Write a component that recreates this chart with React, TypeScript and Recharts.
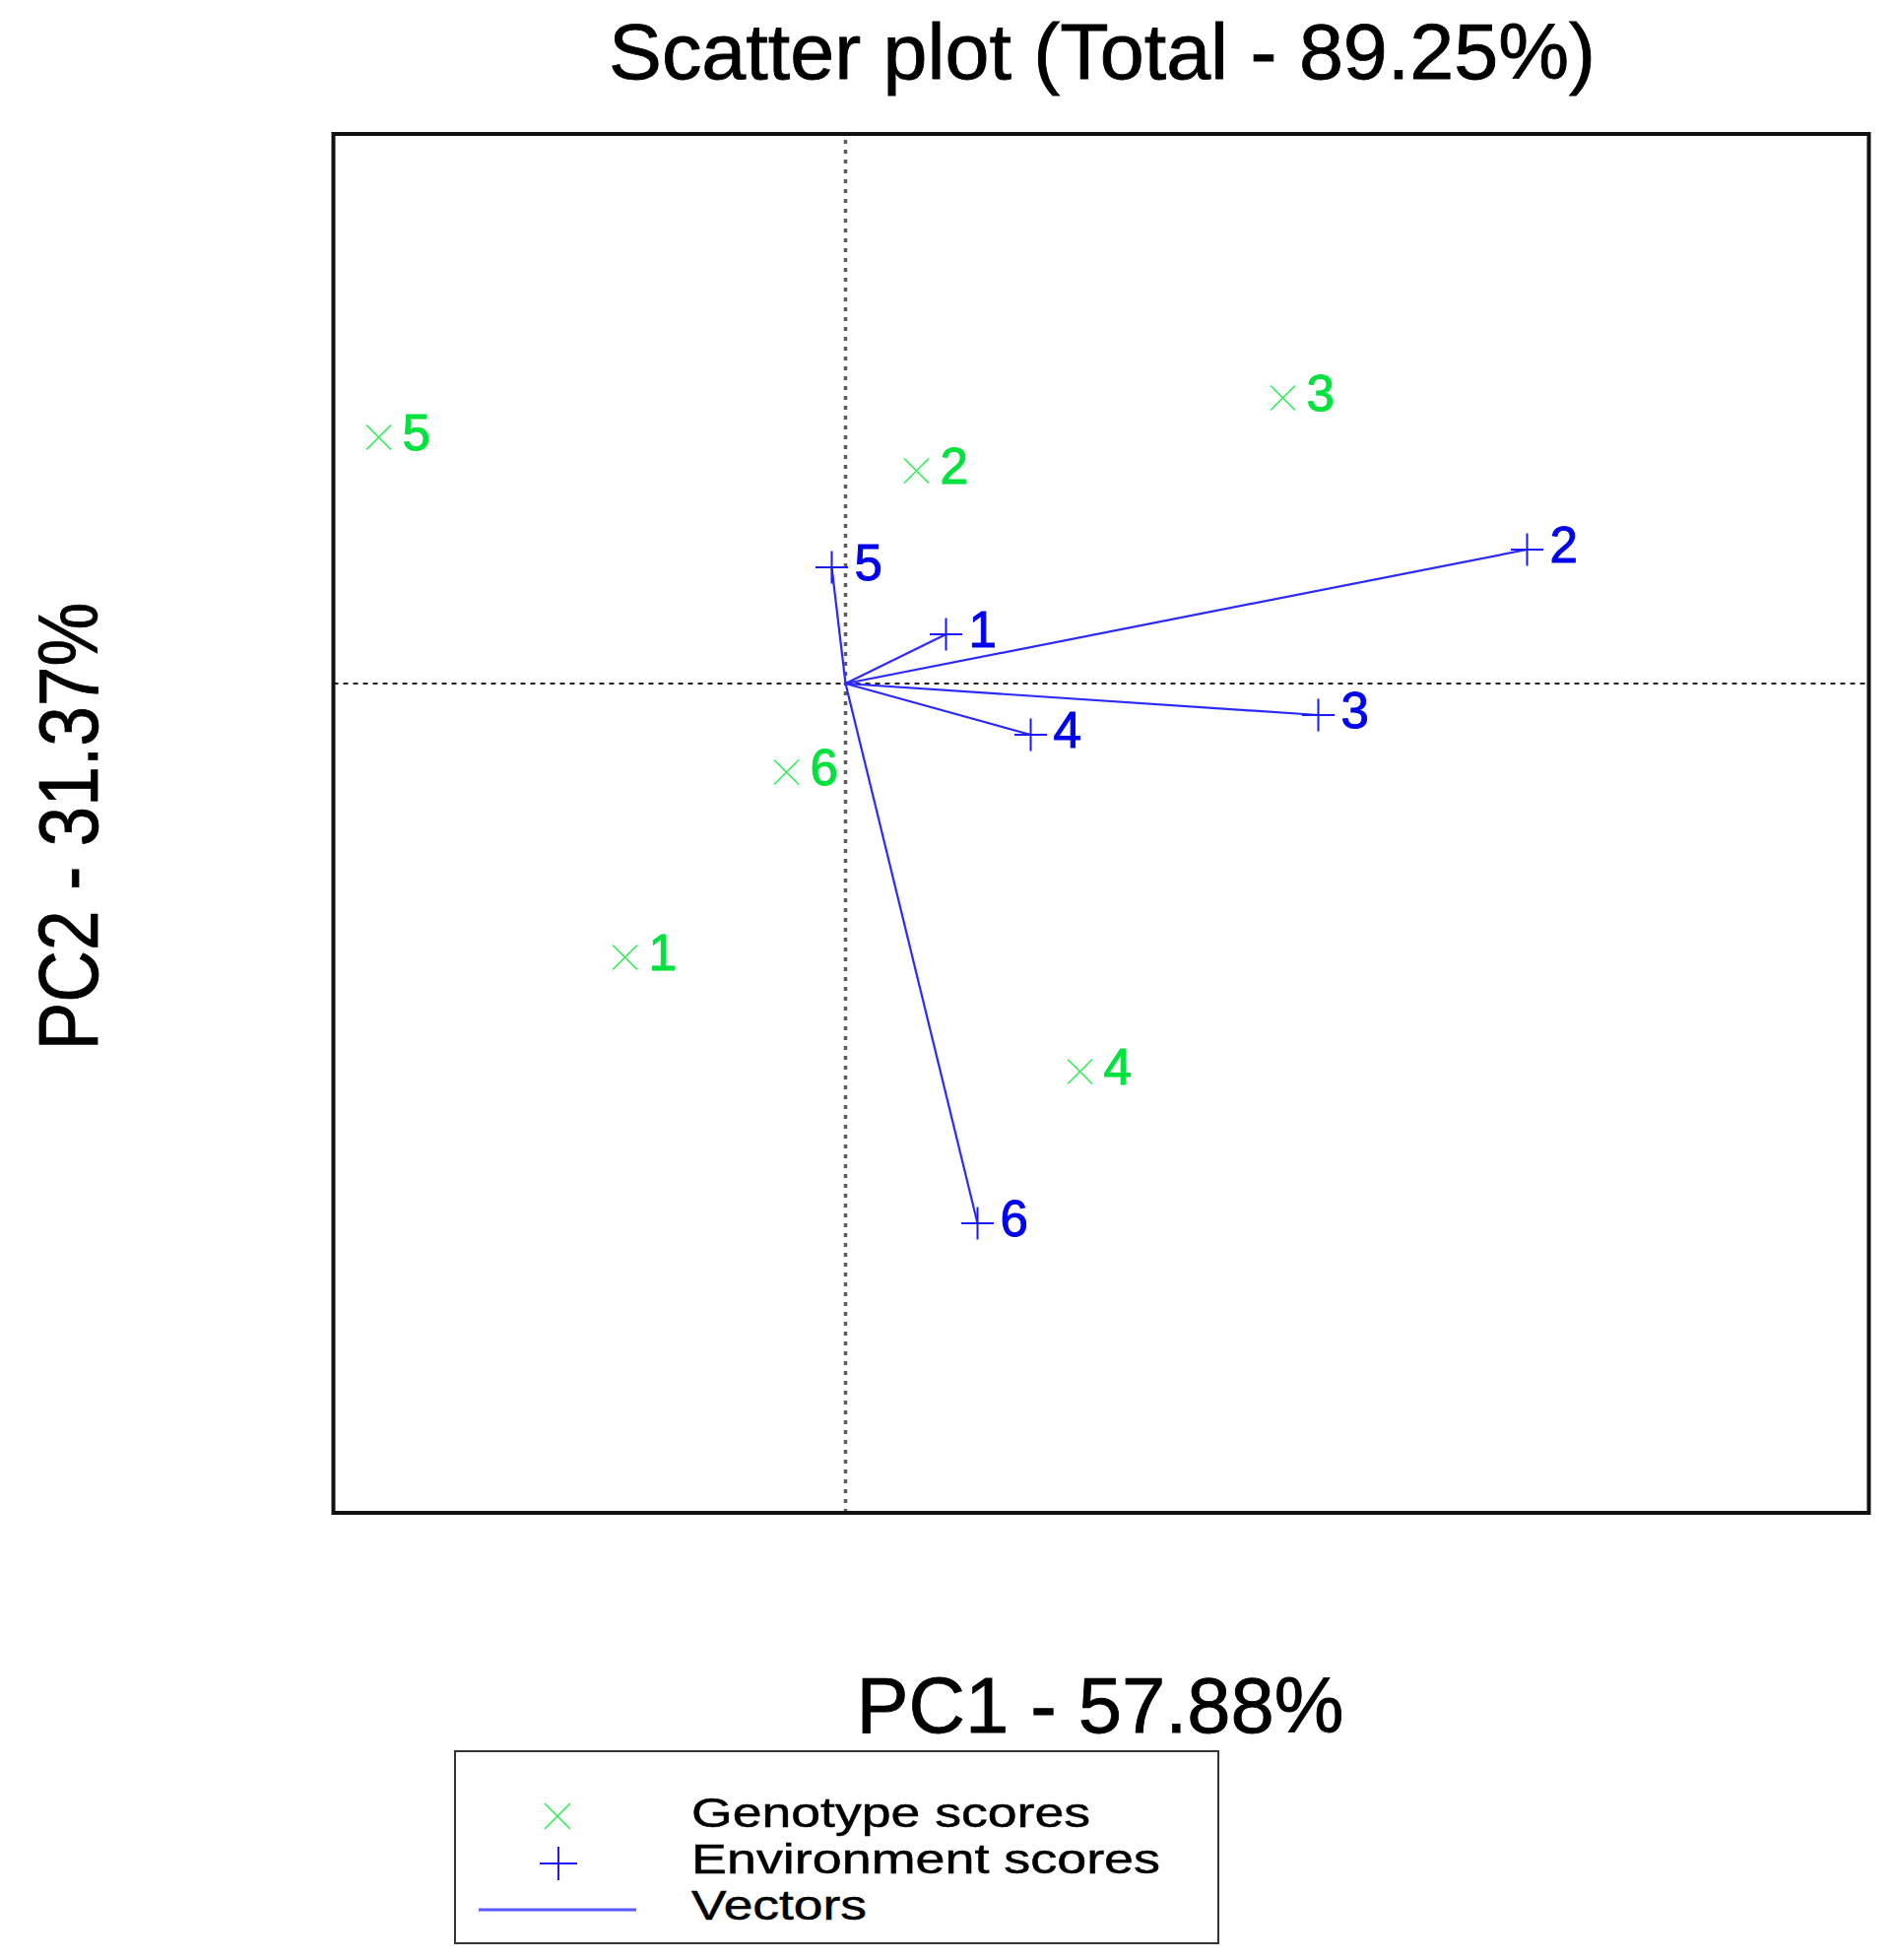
import React from 'react';
import { ScatterChart, Scatter, XAxis, YAxis, ReferenceLine } from 'recharts';

// ---- Data ----
const genotypeNames = ['1', '2', '3', '4', '5', '6'];
const genotypePC1 = [-1.12, 0.36, 2.22, 1.19, -2.37, -0.3];
const genotypePC2 = [-1.39, 1.08, 1.45, -1.97, 1.25, -0.45];

const environmentNames = ['1', '2', '3', '4', '5', '6'];
const environmentPC1 = [0.51, 3.46, 2.4, 0.94, -0.07, 0.67];
const environmentPC2 = [0.25, 0.68, -0.16, -0.26, 0.59, -2.74];

const xDomain: [number, number] = [-2.6, 5.195];
const yDomain: [number, number] = [-4.21, 2.79];

const titleText = 'Scatter plot (Total - 89.25%)';
const xLabelText = 'PC1 - 57.88%';
const yLabelText = 'PC2 - 31.37%';
const legendLabels = ['Genotype scores', 'Environment scores', 'Vectors'];

// ---- Styling ----
const W = 1921;
const H = 1990;
const FONT = '"Liberation Sans", Arial, sans-serif';
const GREEN_MARK = '#2eee55';
const GREEN_TEXT = '#00e23c';
const BLUE_MARK = '#1a1aff';
const BLUE_TEXT = '#0000f0';
const VECTOR = '#2a2aff';

const genotypeData = genotypeNames.map((n, i) => ({ name: n, x: genotypePC1[i], y: genotypePC2[i] }));
const environmentData = environmentNames.map((n, i) => ({ name: n, x: environmentPC1[i], y: environmentPC2[i] }));

const GenotypeShape = (props: any) => {
  const { cx, cy, payload } = props;
  if (cx == null || cy == null) return null;
  const s = 12.5;
  return (
    <g>
      <path
        d={`M${cx - s},${cy - s}L${cx + s},${cy + s}M${cx - s},${cy + s}L${cx + s},${cy - s}`}
        stroke={GREEN_MARK}
        strokeWidth={1.6}
        fill="none"
      />
      <text
        x={cx + 24}
        y={cy + 13}
        fontSize={51}
        fill={GREEN_TEXT}
        stroke={GREEN_TEXT}
        strokeWidth={1}
        fontFamily={FONT}
      >
        {payload.name}
      </text>
    </g>
  );
};

const EnvironmentShape = (props: any) => {
  const { cx, cy, payload } = props;
  if (cx == null || cy == null) return null;
  const s = 16.5;
  return (
    <g>
      <path
        d={`M${cx - s},${cy}L${cx + s},${cy}M${cx},${cy - s}L${cx},${cy + s}`}
        stroke={BLUE_MARK}
        strokeWidth={2}
        fill="none"
      />
      <text
        x={cx + 23}
        y={cy + 13}
        fontSize={51}
        fill={BLUE_TEXT}
        stroke={BLUE_TEXT}
        strokeWidth={1}
        fontFamily={FONT}
      >
        {payload.name}
      </text>
    </g>
  );
};

export default function App() {
  return (
    <div style={{ position: 'absolute', left: 0, top: 0, width: W, height: H, background: '#fff' }}>
      <div style={{ position: 'absolute', left: 0, top: 0 }}>
        <ScatterChart width={W} height={H} margin={{ top: 136, right: 23.5, bottom: 454, left: 338.5 }}>
          <XAxis type="number" dataKey="x" domain={xDomain} hide allowDataOverflow />
          <YAxis type="number" dataKey="y" domain={yDomain} hide allowDataOverflow />
          <ReferenceLine x={0} stroke="#5e5e55" strokeWidth={3.5} strokeDasharray="4 6" />
          <ReferenceLine y={0} stroke="#222" strokeWidth={2.2} strokeDasharray="5 5" />
          {environmentData.map((e) => (
            <ReferenceLine
              key={'v' + e.name}
              segment={[
                { x: 0, y: 0 },
                { x: e.x, y: e.y },
              ]}
              stroke={VECTOR}
              strokeWidth={2.2}
            />
          ))}
          <Scatter data={genotypeData} shape={GenotypeShape} isAnimationActive={false} />
          <Scatter data={environmentData} shape={EnvironmentShape} isAnimationActive={false} />
        </ScatterChart>
      </div>
      <svg
        width={W}
        height={H}
        style={{ position: 'absolute', left: 0, top: 0, pointerEvents: 'none' }}
      >
        <rect x={338.5} y={136} width={1559} height={1400} fill="none" stroke="#111" strokeWidth={4} />
        <text
          x={1119}
          y={80}
          fontSize={79}
          fontFamily={FONT}
          textAnchor="middle"
          fill="#000"
          stroke="#000"
          strokeWidth={0.8}
          textLength={1002}
          lengthAdjust="spacingAndGlyphs"
        >
          {titleText}
        </text>
        <text
          x={1117}
          y={1759}
          fontSize={79}
          fontFamily={FONT}
          textAnchor="middle"
          fill="#000"
          stroke="#000"
          strokeWidth={0.8}
          textLength={495}
          lengthAdjust="spacingAndGlyphs"
        >
          {xLabelText}
        </text>
        <text
          x={0}
          y={0}
          transform="translate(99,839) rotate(-90)"
          fontSize={86}
          fontFamily={FONT}
          textAnchor="middle"
          fill="#000"
          stroke="#000"
          strokeWidth={0.8}
          textLength={455}
          lengthAdjust="spacingAndGlyphs"
        >
          {yLabelText}
        </text>
        {/* Legend */}
        <rect x={462} y={1778} width={775} height={195} fill="#fff" stroke="#333" strokeWidth={2} />
        <path d="M553,1831L579,1857M553,1857L579,1831" stroke={GREEN_MARK} strokeWidth={1.6} fill="none" />
        <path d="M548,1892L586,1892M567,1875L567,1909" stroke={BLUE_MARK} strokeWidth={2} fill="none" />
        <line x1={486} y1={1939} x2={646} y2={1939} stroke="#5a5aff" strokeWidth={3} />
        <text x={702} y={1855} fontSize={43} fontFamily={FONT} fill="#000" stroke="#000" strokeWidth={0.5} textLength={405} lengthAdjust="spacingAndGlyphs">
          {legendLabels[0]}
        </text>
        <text x={702} y={1902} fontSize={43} fontFamily={FONT} fill="#000" stroke="#000" strokeWidth={0.5} textLength={476} lengthAdjust="spacingAndGlyphs">
          {legendLabels[1]}
        </text>
        <text x={702} y={1949} fontSize={43} fontFamily={FONT} fill="#000" stroke="#000" strokeWidth={0.5} textLength={178} lengthAdjust="spacingAndGlyphs">
          {legendLabels[2]}
        </text>
      </svg>
    </div>
  );
}
